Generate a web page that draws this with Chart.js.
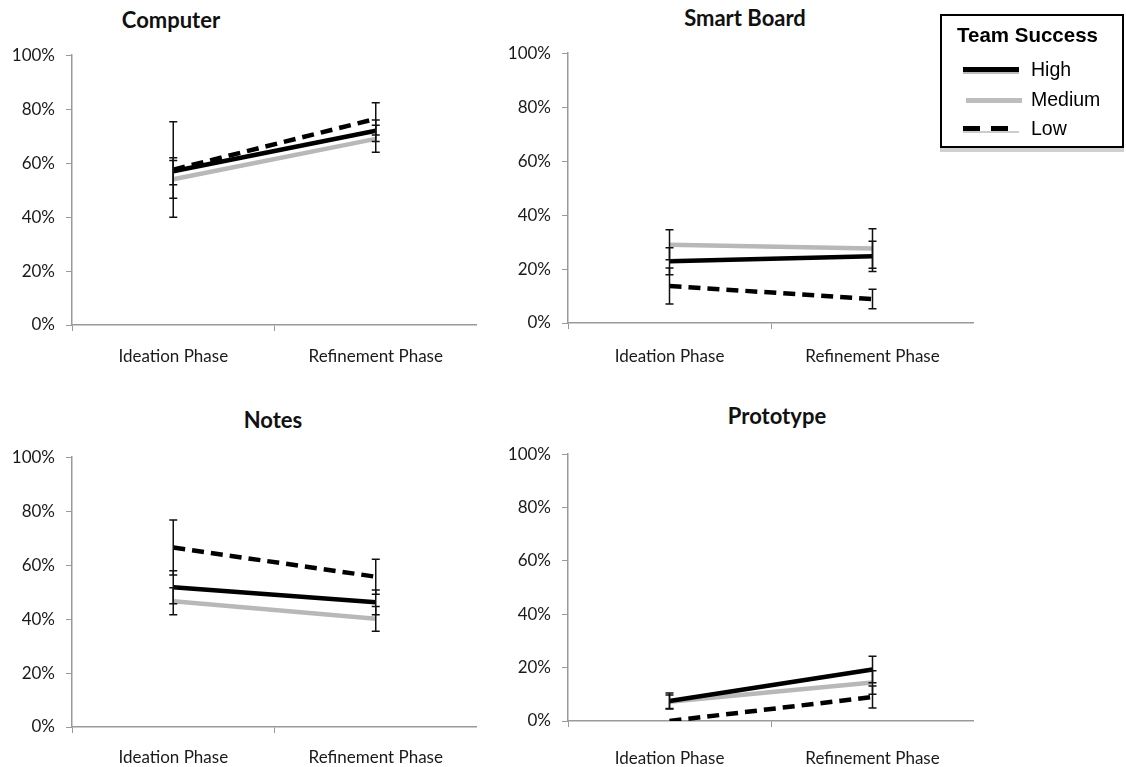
<!DOCTYPE html>
<html>
<head>
<meta charset="utf-8">
<script src="https://cdn.jsdelivr.net/npm/chart.js@4.4.1/dist/chart.umd.min.js"></script>
<style>
  body { margin: 0; background: #fff; width: 1126px; height: 767px; overflow: hidden; position: relative; }
  canvas { position: absolute; }
  .title { position: absolute; font: bold 22px Lato, sans-serif; color: #111; transform: translateX(-50%); white-space: nowrap; }
  #legend { position: absolute; left: 940px; top: 14px; width: 180px; height: 130px; border: 2px solid #000; background: #fff;
            box-shadow: 0 4px 0 #d0d0d0; font-family: "Liberation Sans", Arial, sans-serif; }
  #legend .head { position: absolute; left: 15px; top: 7px; font-weight: bold; font-size: 20.5px; }
  #legend .item { position: absolute; left: 89px; font-size: 19.5px; }
  #legend .swatch { position: absolute; left: 21px; width: 56px; height: 5px; }
</style>
</head>
<body>
<div class="title" style="left:171px; top:6px">Computer</div>
<div class="title" style="left:745px; top:4px">Smart Board</div>
<div class="title" style="left:273px; top:406px">Notes</div>
<div class="title" style="left:777px; top:402px">Prototype</div>

<canvas id="chartComputer" width="477" height="331" style="left:0; top:34px"></canvas>
<canvas id="chartSmartBoard" width="478" height="331" style="left:496px; top:32px"></canvas>
<canvas id="chartNotes" width="477" height="331" style="left:0; top:436px"></canvas>
<canvas id="chartPrototype" width="478" height="334" style="left:496px; top:433px"></canvas>

<div id="legend">
  <div class="head">Team Success</div>
  <div class="swatch" style="top:51px; background:#000; box-shadow:0 2px 0 #bbb"></div>
  <div class="item" style="top:42px">High</div>
  <div class="swatch" style="top:82px; left:24px; background:#bdbdbd"></div>
  <div class="item" style="top:72px">Medium</div>
  <div class="swatch" style="top:110px; background:repeating-linear-gradient(to right,#000 0 17px,transparent 17px 28px); box-shadow:0 2px 0 #ccc"></div>
  <div class="item" style="top:101px">Low</div>
</div>

<script>
// Categorias e rótulos
const phases = ['Ideation Phase', 'Refinement Phase'];
const seriesNames = ['High', 'Medium', 'Low'];

// Computer
const computerHigh = [57.0, 72.0];
const computerHighErr = [5.0, 4.0];
const computerMedium = [54.0, 69.0];
const computerMediumErr = [7.0, 5.0];
const computerLow = [57.6, 76.4];
const computerLowErr = [17.7, 6.0];

// Smart Board
const boardHigh = [22.9, 24.7];
const boardHighErr = [5.0, 5.6];
const boardMedium = [29.0, 27.6];
const boardMediumErr = [5.6, 7.3];
const boardLow = [13.7, 8.9];
const boardLowErr = [6.7, 3.6];

// Notes
const notesHigh = [51.8, 46.2];
const notesHighErr = [6.1, 4.6];
const notesMedium = [46.6, 40.1];
const notesMediumErr = [5.0, 4.6];
const notesLow = [66.5, 55.7];
const notesLowErr = [10.2, 6.5];

// Prototype
const protoHigh = [7.5, 19.3];
const protoHighErr = [3.0, 5.0];
const protoMedium = [7.2, 14.4];
const protoMediumErr = [2.5, 4.4];
const protoLow = [0.0, 9.0];
const protoLowErr = [0.0, 4.1];

const AXIS_GRAY = '#9a9a9a';

// Plugin simples para barras de erro
const errorBars = {
  id: 'errorBars',
  afterDatasetsDraw(chart) {
    const ctx = chart.ctx;
    const yScale = chart.scales.y;
    ctx.save();
    ctx.strokeStyle = '#111';
    ctx.lineWidth = 1.5;
    chart.data.datasets.forEach((ds, i) => {
      if (!ds.errors) return;
      const meta = chart.getDatasetMeta(i);
      meta.data.forEach((pt, j) => {
        const e = ds.errors[j];
        if (!e) return;
        const v = ds.data[j];
        const yTop = yScale.getPixelForValue(v + e);
        const yBot = yScale.getPixelForValue(v - e);
        ctx.beginPath();
        ctx.moveTo(pt.x, yTop); ctx.lineTo(pt.x, yBot);
        ctx.moveTo(pt.x - 4, yTop); ctx.lineTo(pt.x + 4, yTop);
        ctx.moveTo(pt.x - 4, yBot); ctx.lineTo(pt.x + 4, yBot);
        ctx.stroke();
      });
    });
    ctx.restore();
  }
};

function renderPanel(canvasId, high, highErr, medium, mediumErr, low, lowErr, labelPad, axisHeight) {
  const ctx = document.getElementById(canvasId).getContext('2d');
  return new Chart(ctx, {
    type: 'line',
    data: {
      labels: phases,
      datasets: [
        { label: seriesNames[2], data: low, errors: lowErr, borderColor: '#000', borderWidth: 4.5, borderDash: [12, 7], order: 1 },
        { label: seriesNames[0], data: high, errors: highErr, borderColor: '#000', borderWidth: 4.5, order: 2 },
        { label: seriesNames[1], data: medium, errors: mediumErr, borderColor: '#b8b8b8', borderWidth: 4.5, order: 3 }
      ]
    },
    options: {
      responsive: false,
      animation: false,
      layout: { padding: { top: 12, right: 0, left: 0, bottom: 0 } },
      elements: { point: { radius: 0 }, line: { tension: 0, borderCapStyle: 'butt' } },
      plugins: { legend: { display: false }, tooltip: { enabled: false } },
      scales: {
        x: {
          offset: true,
          grid: { display: true, offset: true, drawOnChartArea: false, drawTicks: true, tickLength: 6, color: AXIS_GRAY },
          border: { display: true, color: AXIS_GRAY, width: 1.5 },
          ticks: { color: '#1a1a1a', font: { family: 'Lato', size: 17 }, padding: labelPad, maxRotation: 0 },
          afterFit: s => { s.height = axisHeight; }
        },
        y: {
          min: 0, max: 100,
          grid: { display: true, drawOnChartArea: false, drawTicks: true, tickLength: 6, color: AXIS_GRAY },
          border: { display: true, color: AXIS_GRAY, width: 1.5 },
          ticks: { stepSize: 20, color: '#1a1a1a', font: { family: 'Lato', size: 17 }, padding: 11, callback: v => v + '%' },
          afterFit: s => { s.width = 72; }
        }
      }
    },
    plugins: [errorBars]
  });
}

renderPanel('chartComputer', computerHigh, computerHighErr, computerMedium, computerMediumErr, computerLow, computerLowErr, 15, 40);
renderPanel('chartSmartBoard', boardHigh, boardHighErr, boardMedium, boardMediumErr, boardLow, boardLowErr, 17, 40);
renderPanel('chartNotes', notesHigh, notesHighErr, notesMedium, notesMediumErr, notesLow, notesLowErr, 14, 40);
renderPanel('chartPrototype', protoHigh, protoHighErr, protoMedium, protoMediumErr, protoLow, protoLowErr, 21, 46);
</script>
</body>
</html>
